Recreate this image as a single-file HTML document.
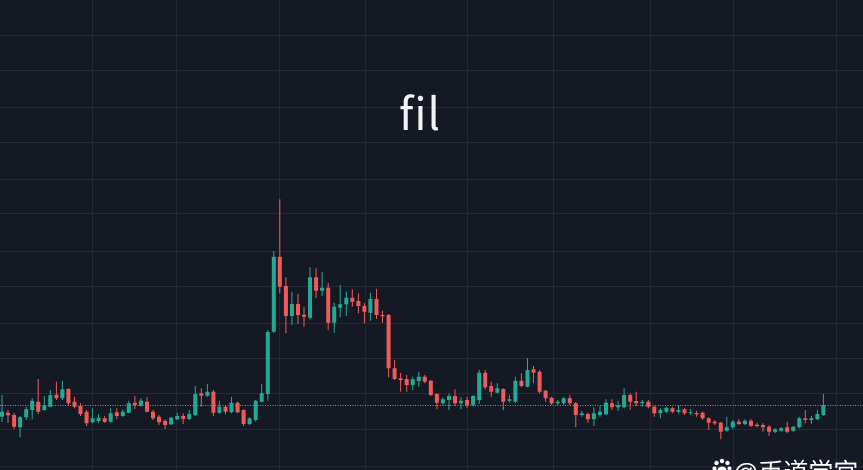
<!DOCTYPE html>
<html>
<head>
<meta charset="utf-8">
<style>
html,body{margin:0;padding:0;background:#151924;}
body{width:863px;height:470px;overflow:hidden;}
svg{display:block;}
</style>
</head>
<body>
<svg width="863" height="470" viewBox="0 0 863 470" xmlns="http://www.w3.org/2000/svg">
<rect x="0" y="0" width="863" height="470" fill="#151924"/>
<g stroke="#242938" stroke-width="1">
<path d="M0 35.5H863M0 70.5H863M0 107.5H863M0 142.5H863M0 179.5H863M0 213.5H863M0 251.5H863M0 286.5H863M0 323.5H863M0 358.5H863M0 393.5H863M0 429.5H863M0 466.5H863"/>
<path d="M92.5 0V470M176.5 0V470M279.5 0V470M365.5 0V470M467.5 0V470M553.5 0V470M650.5 0V470M733.5 0V470M836.5 0V470"/>
</g>
<text x="420" y="130" text-anchor="middle" font-family="'Noto Sans CJK SC','Liberation Sans',sans-serif" font-size="44" letter-spacing="1" fill="#f2f3f5">fil</text>
<line x1="0" y1="405.5" x2="863" y2="405.5" stroke="#35b3a0" stroke-width="1" stroke-dasharray="1 1.5"/>
<!-- green wicks -->
<path fill="none" stroke="#22ab94" stroke-width="1" d="M2 395V422M20.1 416V437.3M26.2 406.7V420M32.2 398.3V419.3M44.3 396V410.7M50.3 390V407.3M62.4 380.7V400M92.6 408.3V423.3M98.6 414V423.3M110.7 408.3V422.7M122.8 409.3V416.7M128.8 400.7V413.3M140.9 398.3V406.7M171.1 416.7V425M177.2 412.7V420M189.2 410V420M195.3 386V416M207.4 384V396.7M219.4 400.7V414M231.5 396.7V413.3M249.6 417.3V425M255.7 400V421.7M261.7 384V402.3M267.8 330V400.7M273.8 251V333M291.9 291.7V325M310 267.3V319.3M322.1 271.7V296M334.2 302.7V332.7M340.2 285V317.3M346.3 291.7V316M370.4 292.7V320.7M412.7 376.7V390M418.8 371.7V386.7M442.9 397.3V405M449 393.3V410M461 397.3V409.3M473.1 395V406.7M479.2 370V404M497.3 383.3V393.3M509.4 395V402.7M515.4 376.7V402.7M527.5 358.3V387.3M557.7 400V405M563.7 396.7V405M581.8 410.7V416.7M593.9 407.3V426M600 406V416.7M606 399.3V415M618.1 400.7V410.7M624.1 388.3V408.3M642.2 400V406.7M660.4 408.3V418.3M666.4 406.7V413.3M678.5 405V413.3M690.6 409V415M726.8 416.7V431.7M732.8 420V429.3M744.9 419.3V425M775.1 428.3V433.3M781.2 426.7V431.7M793.2 426V431.7M799.3 416.7V428.3M811.4 416V424M817.4 410V420M823.4 394V416"/>
<!-- green bodies -->
<path fill="#22ab94" d="M0 411.7h4V416.7h-4zM18.1 417.3h4V427.3h-4zM24.2 409.3h4V417.3h-4zM30.2 400.7h4V410h-4zM42.3 406h4V410h-4zM48.3 395.3h4V406.7h-4zM60.4 389.3h4V398.3h-4zM90.6 418.3h4V422.3h-4zM96.6 417.7h4V421h-4zM108.7 413.3h4V421.7h-4zM120.8 411.7h4V416h-4zM126.8 403.3h4V412.7h-4zM138.9 400.7h4V405.7h-4zM169.1 417.7h4V424.3h-4zM175.2 416h4V419.3h-4zM187.2 414h4V419h-4zM193.3 394h4V415h-4zM205.4 391.7h4V395.7h-4zM217.4 406.7h4V412.7h-4zM229.5 402.7h4V412.3h-4zM247.6 418.3h4V424h-4zM253.7 400.7h4V420h-4zM259.7 393.3h4V401.7h-4zM265.8 332h4V394h-4zM271.8 256.7h4V331.7h-4zM289.9 304h4V316h-4zM308 277.3h4V317.7h-4zM320.1 287.7h4V290.7h-4zM332.2 306.7h4V322.7h-4zM338.2 304.3h4V307.7h-4zM344.3 297.7h4V304.3h-4zM368.4 299h4V312.7h-4zM410.7 379.3h4V385h-4zM416.8 376.7h4V381h-4zM440.9 399.3h4V403.3h-4zM447 396h4V400h-4zM459 400.7h4V403.3h-4zM471.1 396h4V405.3h-4zM477.2 372.7h4V400h-4zM495.3 388.3h4V392.7h-4zM507.4 399.3h4V400.7h-4zM513.4 380.7h4V401.7h-4zM525.5 370h4V386.7h-4zM555.7 401.7h4V403.3h-4zM561.7 398.3h4V403.3h-4zM579.8 413.3h4V415h-4zM591.9 413.3h4V419.3h-4zM598 411.7h4V415h-4zM604 402.7h4V414.3h-4zM616.1 405h4V407.3h-4zM622.1 395h4V407.3h-4zM640.2 401.7h4V403.3h-4zM658.4 410h4V413.3h-4zM664.4 407.7h4V411.7h-4zM676.5 410h4V411.7h-4zM688.6 412.3h4V413.3h-4zM724.8 427.3h4V430.7h-4zM730.8 421.7h4V427.3h-4zM742.9 420.7h4V424h-4zM773.1 429.3h4V431.7h-4zM779.2 428.3h4V430.7h-4zM791.2 426.7h4V430.7h-4zM797.3 418.3h4V427.3h-4zM809.4 418.3h4V420h-4zM815.4 414h4V419.3h-4zM821.4 405h4V415h-4z"/>
<!-- red wicks -->
<path fill="none" stroke="#f05a5b" stroke-width="1" d="M8 410V423M14.1 413V429M38.2 379V414M56.4 381.7V400M68.4 388.3V406M74.5 396.7V408.3M80.5 403.3V416M86.6 410V426M104.7 416V422.7M116.8 408.3V419.3M134.9 396V409.3M147 397.3V412.3M153 410V420M159 415V425M165.1 419.3V429M183.2 413.3V424M201.3 388.3V406.7M213.4 390V416M225.5 405V414.3M237.6 401.7V413.3M243.6 409.3V426M279.8 199.3V293.3M285.9 277.3V333.3M298 294V324M304 307.3V326.7M316.1 268.3V298.3M328.2 282.7V330M352.3 289.3V306.7M358.4 293.3V313.3M364.4 303.3V323.3M376.5 288.7V319M382.5 310.7V322.7M388.6 314V377.3M394.6 360V380M400.6 372.7V391.7M406.7 375V391.7M424.8 375V383.3M430.8 380V396M436.9 393.3V409.3M455 389.3V406M467.1 396.7V408.3M485.2 370V389.3M491.2 381.7V396.7M503.3 388.3V410M521.4 373.3V387.3M533.5 366V383.3M539.6 370V393.3M545.6 390V401.7M551.6 396.7V405M569.8 395V405M575.8 402V427.3M587.9 412.7V422.7M612 399.3V410M630.2 393.3V410M636.2 391.7V406M648.3 400V408.3M654.3 406V416.7M672.4 406.7V413.3M684.5 408.3V415M696.6 411V416.7M702.6 411.7V420M708.7 417.3V430M714.7 420V425M720.8 421.7V439.3M738.9 419.3V425M751 419.3V427.3M757 422.7V427.3M763 423.3V431.7M769.1 425V436M787.2 421.7V433.3M805.3 410V423.3"/>
<!-- red bodies -->
<path fill="#f05a5b" d="M6 412.7h4V415.3h-4zM12.1 415h4V426.7h-4zM36.2 401.7h4V411.7h-4zM54.4 394.7h4V398.3h-4zM66.4 389h4V403.3h-4zM72.5 401.7h4V406.7h-4zM78.5 406h4V414h-4zM84.6 411.7h4V423.3h-4zM102.7 418.3h4V422h-4zM114.8 412.3h4V416h-4zM132.9 402.7h4V405h-4zM145 401.7h4V411.7h-4zM151 411.7h4V418.3h-4zM157 416.7h4V422.3h-4zM163.1 421h4V425h-4zM181.2 416h4V419h-4zM199.3 393.3h4V395.7h-4zM211.4 391.7h4V412.7h-4zM223.5 406.7h4V411.7h-4zM235.6 402.7h4V412.3h-4zM241.6 410h4V424h-4zM277.8 256.7h4V286.7h-4zM283.9 286h4V316h-4zM296 304h4V315h-4zM302 314.7h4V316.7h-4zM314.1 277.3h4V290.7h-4zM326.2 287.7h4V322.7h-4zM350.3 297.7h4V301.7h-4zM356.4 301h4V306h-4zM362.4 306h4V311.7h-4zM374.5 299h4V315h-4zM380.5 315h4V316.3h-4zM386.6 315h4V368.3h-4zM392.6 368.3h4V379h-4zM398.6 378.3h4V380h-4zM404.7 379h4V385h-4zM422.8 376.7h4V381.7h-4zM428.8 380.7h4V395h-4zM434.9 394h4V402.7h-4zM453 396h4V403.3h-4zM465.1 400h4V405.3h-4zM483.2 372.7h4V387.3h-4zM489.2 386h4V391.7h-4zM501.3 389h4V401.7h-4zM519.4 380.7h4V386h-4zM531.5 369.3h4V372.7h-4zM537.6 371.7h4V391.7h-4zM543.6 390.7h4V398.3h-4zM549.6 397.7h4V403.3h-4zM567.8 398.3h4V403.3h-4zM573.8 403.3h4V415h-4zM585.9 414h4V419.3h-4zM610 403.3h4V407.3h-4zM628.2 395h4V401.7h-4zM634.2 401h4V403.3h-4zM646.3 401.7h4V406.7h-4zM652.3 406.7h4V413.3h-4zM670.4 408.3h4V411.7h-4zM682.5 409.3h4V413.3h-4zM694.6 413h4V414.3h-4zM700.6 412.7h4V418.3h-4zM706.7 418.3h4V422.7h-4zM712.7 421.7h4V423.3h-4zM718.8 422.7h4V431.7h-4zM736.9 421.7h4V424h-4zM749 420.7h4V425.7h-4zM755 424.7h4V426h-4zM761 425h4V427.3h-4zM767.1 426.7h4V431.7h-4zM785.2 427.3h4V431.7h-4zM803.3 418.3h4V420h-4z"/>
<!-- watermark -->
<g fill="#ffffff">
<circle cx="716.5" cy="463" r="2.2"/>
<circle cx="722" cy="461" r="2.2"/>
<circle cx="727.5" cy="463" r="2.2"/>
<circle cx="714.5" cy="468.5" r="2"/>
<circle cx="729.5" cy="468.5" r="2"/>
<ellipse cx="722" cy="470" rx="4.5" ry="3.5"/>
</g>
<text x="733" y="481" font-family="'Liberation Sans','Noto Sans CJK SC',sans-serif" font-size="25" fill="#ffffff">@<tspan font-family="'Noto Sans CJK SC',sans-serif">币道学宫</tspan></text>
</svg>
</body>
</html>
